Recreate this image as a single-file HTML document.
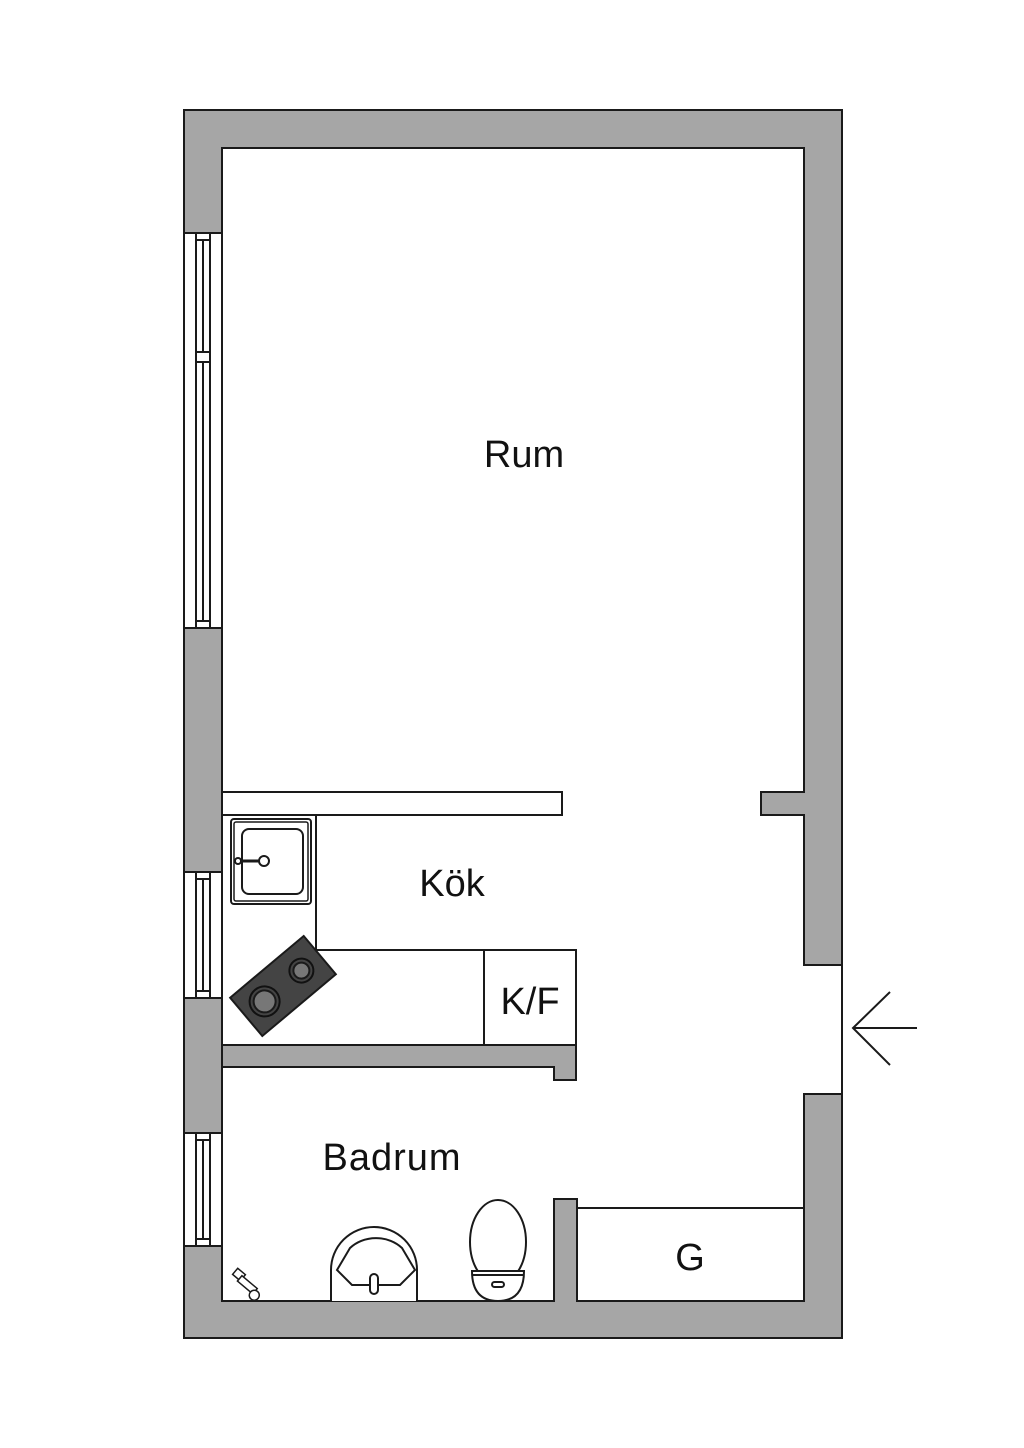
<!DOCTYPE html>
<html><head><meta charset="utf-8"><style>html,body{margin:0;padding:0;background:#fff}svg{display:block}</style></head>
<body>
<svg width="1024" height="1448" viewBox="0 0 1024 1448" xmlns="http://www.w3.org/2000/svg" font-family="Liberation Sans, sans-serif">
<g stroke="#1a1a1a" stroke-width="2" fill="#a6a6a6">
<path d="M184,110 H842 V965 H804 V815 H761 V792 H804 V148 H222 V1301 H554 V1199 H577 V1301 H804 V1094 H842 V1338 H184 Z" fill-rule="evenodd"/>
</g>
<line x1="842" y1="965" x2="842" y2="1094" stroke="#1a1a1a" stroke-width="2"/>
<path d="M222,1045 H576 V1080 H554 V1067 H222 Z" fill="#a6a6a6" stroke="#1a1a1a" stroke-width="2"/>
<g stroke="#1a1a1a" stroke-width="2" fill="#fff">
<rect x="184" y="233" width="38" height="395"/>
<rect x="184" y="872" width="38" height="126"/>
<rect x="184" y="1133" width="38" height="113"/>
<g fill="none">
<path d="M196,233 V628 M210,233 V628 M203,240 V352 M203,362 V621 M196,240 H210 M196,352 H210 M196,362 H210 M196,621 H210"/>
<path d="M196,872 V998 M210,872 V998 M203,879 V991 M196,879 H210 M196,991 H210"/>
<path d="M196,1133 V1246 M210,1133 V1246 M203,1140 V1239 M196,1140 H210 M196,1239 H210"/>
</g>
</g>
<g stroke="#1a1a1a" stroke-width="2" fill="#fff">
<rect x="222" y="792" width="340" height="23"/>
<path d="M316,815 V950 H576 V1045 M484,950 V1045" fill="none"/>
<rect x="231" y="819" width="80" height="85" rx="3"/>
<rect x="234" y="822" width="74" height="79" rx="2" fill="none" stroke-width="1.5"/>
<rect x="242" y="829" width="61" height="65" rx="7" fill="none"/>
<line x1="238" y1="861" x2="263" y2="861" stroke-width="3"/>
<circle cx="238" cy="861" r="3"/>
<circle cx="264" cy="861" r="5"/>
<g transform="translate(283,986) rotate(-40)">
<rect x="-48" y="-25" width="96" height="50" fill="#444"/>
<circle cx="-24" cy="0" r="15" fill="#444" stroke="#111"/>
<circle cx="-24" cy="0" r="11" fill="#777"/>
<circle cx="24" cy="0" r="12" fill="#444" stroke="#111"/>
<circle cx="24" cy="0" r="8" fill="#777"/>
</g>
<path d="M577,1208 H804" fill="none"/>
<path d="M331,1301 V1270 A43,43 0 0 1 417,1270 V1301" />
<path d="M337,1270 L350,1248 A35,30 0 0 1 402,1248 L415,1270 L400,1285 H352 Z" fill="none"/>
<rect x="370" y="1274" width="8" height="20" rx="4"/>
<ellipse cx="498" cy="1242" rx="28" ry="42"/>
<path d="M472,1271 Q472,1301 498,1301 Q524,1301 524,1271 Z"/>
<path d="M473,1275 H523" fill="none"/>
<rect x="492" y="1282" width="12" height="5" rx="2.5"/>
<g transform="translate(240,1278) rotate(40)" stroke-width="1.5">
<rect x="-8" y="-6" width="10" height="8"/>
<rect x="0" y="-3" width="20" height="7"/>
<circle cx="22" cy="4" r="5"/>
</g>
</g>
<g stroke="#1a1a1a" stroke-width="2" fill="none">
<path d="M890,992 L853,1028 L890,1065 M853,1028 H917"/>
</g>
<g fill="#111" text-anchor="middle" font-size="38">
<text x="524" y="467">Rum</text>
<text x="452" y="896">Kök</text>
<text x="530" y="1014">K/F</text>
<text x="392" y="1170" letter-spacing="1">Badrum</text>
<text x="690" y="1270">G</text>
</g>
</svg>
</body></html>
